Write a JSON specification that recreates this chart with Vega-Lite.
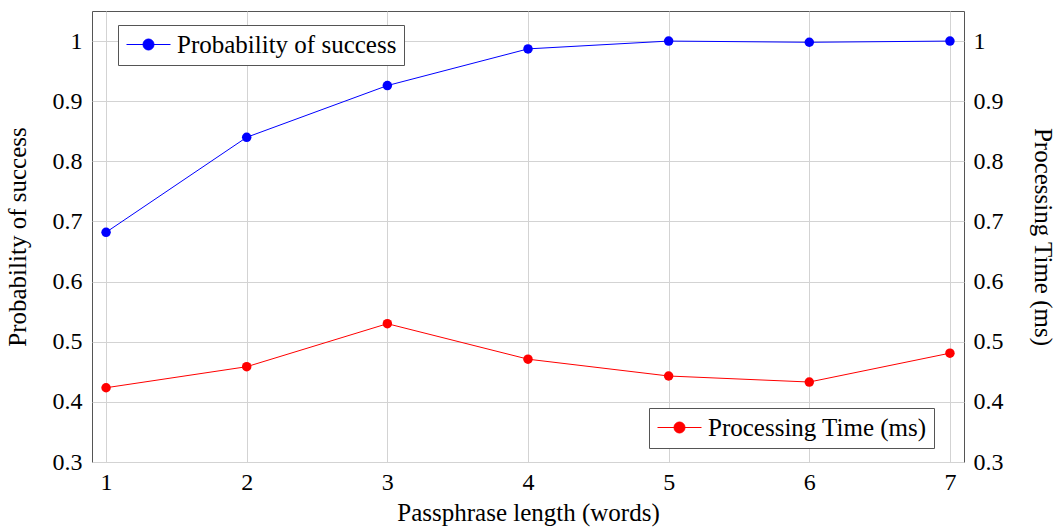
{
  "$schema": "https://vega.github.io/schema/vega-lite/v6.json",
  "width": 872,
  "height": 451,
  "autosize": {"type": "none"},
  "padding": {"left": 92, "top": 11, "right": 93, "bottom": 67},
  "background": "white",
  "config": {
    "font": "Liberation Serif",
    "view": {"stroke": "#555555", "strokeWidth": 1},
    "axis": {
      "labelFont": "Liberation Serif",
      "titleFont": "Liberation Serif",
      "labelFontSize": 24,
      "titleFontSize": 25,
      "titleFontWeight": "normal",
      "labelColor": "black",
      "titleColor": "black",
      "ticks": false,
      "domain": false,
      "gridColor": "#d3d3d3",
      "gridWidth": 1
    },
    "legend": {
      "labelFont": "Liberation Serif",
      "labelFontSize": 25,
      "labelColor": "black",
      "labelLimit": 0
    }
  },
  "data": {
    "values": [
      {"words": 1, "prob": 0.682, "time": 0.4235},
      {"words": 2, "prob": 0.840, "time": 0.4585},
      {"words": 3, "prob": 0.926, "time": 0.530},
      {"words": 4, "prob": 0.987, "time": 0.471},
      {"words": 5, "prob": 1.000, "time": 0.443},
      {"words": 6, "prob": 0.998, "time": 0.433},
      {"words": 7, "prob": 1.000, "time": 0.481}
    ]
  },
  "encoding": {
    "x": {
      "field": "words",
      "type": "quantitative",
      "scale": {"domain": [0.9, 7.1], "nice": false, "zero": false},
      "axis": {
        "values": [1, 2, 3, 4, 5, 6, 7],
        "format": "d",
        "grid": true,
        "labelPadding": 8,
        "title": "Passphrase length (words)",
        "titlePadding": 6
      }
    }
  },
  "layer": [
    {
      "mark": {"type": "line", "strokeWidth": 1, "point": {"filled": true, "size": 90}},
      "encoding": {
        "y": {
          "field": "prob",
          "type": "quantitative",
          "scale": {"domain": [0.3, 1.05], "nice": false, "zero": false},
          "axis": {
            "orient": "left",
            "values": [0.3, 0.4, 0.5, 0.6, 0.7, 0.8, 0.9, 1.0],
            "format": "~g",
            "grid": true,
            "labelPadding": 10,
            "title": "Probability of success",
            "titlePadding": 22
          }
        },
        "color": {
          "datum": "Probability of success",
          "type": "nominal",
          "scale": {"domain": ["Probability of success"], "range": ["#0000ff"]},
          "legend": {
            "title": null,
            "orient": "none",
            "legendX": 26,
            "legendY": 14,
            "padding": 7,
            "strokeColor": "#555555",
            "fillColor": "white",
            "symbolType": "M-1,0L3,0M0.5,0A0.5,0.5,0,1,1,1.5,0A0.5,0.5,0,1,1,0.5,0Z",
            "symbolSize": 484,
            "symbolStrokeWidth": 1,
            "labelOffset": 27,
            "encode": {"symbols": {"update": {"fill": {"value": "#0000ff"}, "stroke": {"value": "#0000ff"}, "strokeWidth": {"value": 1}}}}
          }
        }
      }
    },
    {
      "mark": {"type": "line", "strokeWidth": 1, "point": {"filled": true, "size": 90}},
      "encoding": {
        "y": {
          "field": "time",
          "type": "quantitative",
          "scale": {"domain": [0.3, 1.05], "nice": false, "zero": false},
          "axis": {
            "orient": "right",
            "values": [0.3, 0.4, 0.5, 0.6, 0.7, 0.8, 0.9, 1.0],
            "format": "~g",
            "grid": false,
            "labelPadding": 9,
            "title": "Processing Time (ms)",
            "titlePadding": 26
          }
        },
        "color": {
          "datum": "Processing Time (ms)",
          "type": "nominal",
          "scale": {"domain": ["Processing Time (ms)"], "range": ["#ff0000"]},
          "legend": {
            "title": null,
            "orient": "none",
            "legendX": 557,
            "legendY": 397,
            "padding": 7,
            "strokeColor": "#555555",
            "fillColor": "white",
            "symbolType": "M-1,0L3,0M0.5,0A0.5,0.5,0,1,1,1.5,0A0.5,0.5,0,1,1,0.5,0Z",
            "symbolSize": 484,
            "symbolStrokeWidth": 1,
            "labelOffset": 27,
            "encode": {"symbols": {"update": {"fill": {"value": "#ff0000"}, "stroke": {"value": "#ff0000"}, "strokeWidth": {"value": 1}}}}
          }
        }
      }
    }
  ],
  "resolve": {"scale": {"y": "independent", "color": "independent"}}
}
